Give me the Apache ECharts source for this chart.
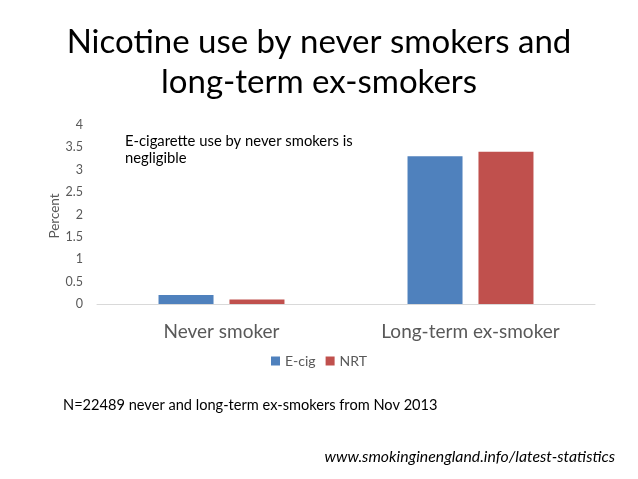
<!DOCTYPE html>
<html><head><meta charset="utf-8">
<script src="https://cdn.jsdelivr.net/npm/echarts@6/dist/echarts.min.js"></script>
<style>html,body{margin:0;padding:0;background:#fff}#c{width:638px;height:479px}</style>
</head><body><div id="c"></div>
<script>
const categories = ['Never smoker', 'Long-term ex-smoker'];
const ecig = [0.2, 3.3];
const nrt = [0.1, 3.4];
const yTicks = [0, 0.5, 1, 1.5, 2, 2.5, 3, 3.5, 4];
const FONT = 'Lato';
const chart = echarts.init(document.getElementById('c'));
chart.setOption({
  backgroundColor: '#fff',
  textStyle: {fontFamily: FONT},
  title: {
    text: 'Nicotine use by never smokers and\nlong-term ex-smokers',
    left: 'center', top: 17,
    textStyle: {fontFamily: FONT, fontSize: 33, fontWeight: 'normal', color: '#000', lineHeight: 40}
  },
  legend: {
    data: ['E-cig', 'NRT'], bottom: 106, left: 'center',
    itemWidth: 9, itemHeight: 9, itemGap: 10, icon: 'rect',
    textStyle: {fontSize: 14, color: '#595959', fontFamily: FONT}
  },
  grid: {left: 97, right: 43, top: 125, bottom: 175, containLabel: false},
  xAxis: {
    type: 'category', data: categories,
    axisLine: {lineStyle: {color: '#d9d9d9'}},
    axisTick: {show: false},
    axisLabel: {fontSize: 19, color: '#595959', margin: 18, fontFamily: FONT}
  },
  yAxis: {
    type: 'value', min: 0, max: 4, interval: 0.5,
    axisLine: {show: false}, axisTick: {show: false}, splitLine: {show: false},
    axisLabel: {fontSize: 12.5, color: '#595959', margin: 14, fontFamily: FONT,
      formatter: v => yTicks.includes(v) ? String(v) : ''}
  },
  series: [
    {name: 'E-cig', type: 'bar', data: ecig, barWidth: 55, barGap: '29%', itemStyle: {color: '#4f81bd'}},
    {name: 'NRT', type: 'bar', data: nrt, barWidth: 55, itemStyle: {color: '#c0504d'}}
  ],
  graphic: [
    {type: 'text', x: 55, y: 216, rotation: Math.PI / 2, style: {text: 'Percent', fontSize: 13.5, fill: '#595959', fontFamily: FONT, align: 'center', verticalAlign: 'middle'}},
    {type: 'text', left: 125, top: 133, style: {text: 'E-cigarette use by never smokers is\nnegligible', fontSize: 14.8, lineHeight: 17, fill: '#000', fontFamily: FONT}},
    {type: 'text', left: 63, top: 398, style: {text: 'N=22489 never and long-term ex-smokers from Nov 2013', fontSize: 14.6, fill: '#000', fontFamily: FONT}},
    {type: 'text', right: 23, top: 449, style: {text: 'www.smokinginengland.info/latest-statistics', fontSize: 15.8, fontStyle: 'italic', fill: '#000', fontFamily: FONT}}
  ]
});
</script></body></html>
